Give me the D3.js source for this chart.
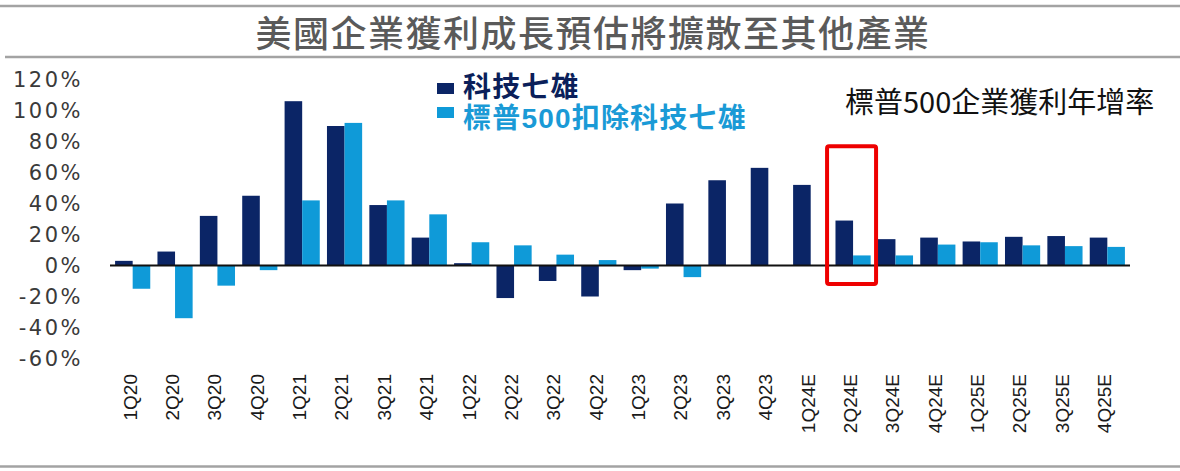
<!DOCTYPE html>
<html>
<head>
<meta charset="utf-8">
<script src="https://cdn.jsdelivr.net/npm/d3@7"></script>
<style>
  body { margin: 0; background: #fff; }
  svg { display: block; }
</style>
</head>
<body>
<div class="chart"></div>
<script>
const svgWidth = 1180;
const svgHeight = 471;

// data (% yoy)
const quarters = ["1Q20", "2Q20", "3Q20", "4Q20", "1Q21", "2Q21", "3Q21", "4Q21",
    "1Q22", "2Q22", "3Q22", "4Q22", "1Q23", "2Q23", "3Q23", "4Q23",
    "1Q24E", "2Q24E", "3Q24E", "4Q24E", "1Q25E", "2Q25E", "3Q25E", "4Q25E"];
const mag7 = [3, 9, 32, 45, 106, 90, 39, 18, 1.5, -21, -10, -20,
    -3, 40, 55, 63, 52, 29, 17, 18, 15.5, 18.5, 19, 18];
const restOf500 = [-15, -34, -13, -3, 42, 92, 42, 33, 15, 13, 7, 3.5,
    -2, -7.5, null, null, null, 6.5, 6.5, 13.5, 15, 13, 12.5, 12];
const yTicks = [-60, -40, -20, 0, 20, 40, 60, 80, 100, 120];
const seriesNames = ["科技七雄", "標普500扣除科技七雄"];
const highlight = "2Q24E";

const darkBlue = "#0b2566";
const lightBlue = "#0f9ad8";
const cjk = "'Noto Sans CJK TC', 'Noto Sans CJK SC', sans-serif";

const svg = d3.select(".chart")
    .append("svg")
    .attr("width", svgWidth)
    .attr("height", svgHeight);

// frame lines
const lineColor = "#a3a3a3";
svg.append("line").attr("x1", 0).attr("x2", svgWidth).attr("y1", 6).attr("y2", 6)
    .attr("stroke", lineColor).attr("stroke-width", 2.5);
svg.append("line").attr("x1", 5).attr("x2", svgWidth).attr("y1", 57).attr("y2", 57)
    .attr("stroke", lineColor).attr("stroke-width", 2.5);
svg.append("line").attr("x1", 0).attr("x2", svgWidth).attr("y1", 466.5).attr("y2", 466.5)
    .attr("stroke", lineColor).attr("stroke-width", 2.5);

svg.append("text")
    .attr("x", 593)
    .attr("y", 47)
    .attr("text-anchor", "middle")
    .style("font-family", cjk)
    .style("font-size", "36px")
    .style("font-weight", 500)
    .style("letter-spacing", "1.5px")
    .style("fill", "#5a5a5a")
    .text("美國企業獲利成長預估將擴散至其他產業");

const x = d3.scaleBand()
    .domain(quarters)
    .range([110, 1130])
    .paddingInner(0.17)
    .paddingOuter(0.12);

const x1 = d3.scaleBand()
    .domain([0, 1])
    .range([0, x.bandwidth()]);

const y = d3.scaleLinear()
    .domain([-60, 120])
    .range([358.5, 79.5]);

// y axis: labels only
const leftAxis = d3.axisLeft(y)
    .tickValues(yTicks)
    .tickSize(0)
    .tickPadding(0)
    .tickFormat(d => d + "%");

const yAxis = svg.append("g")
    .attr("transform", "translate(83, 0)")
    .call(leftAxis)
    .attr("font-size", 21)
    .attr("font-family", "'DejaVu Sans', sans-serif");
yAxis.select(".domain").remove();
yAxis.selectAll("text")
    .style("letter-spacing", "2.5px")
    .style("fill", "#3a3a3a");

// x axis: rotated labels
const bottomAxis = d3.axisBottom(x).tickSize(0).tickPadding(0);
const xAxis = svg.append("g")
    .attr("transform", "translate(-3, 374)")
    .call(bottomAxis)
    .attr("font-size", 19)
    .attr("font-family", "'Liberation Sans', Arial, sans-serif");
xAxis.select(".domain").remove();
xAxis.selectAll("text")
    .attr("transform", "rotate(-90)")
    .attr("x", 0)
    .attr("y", 0)
    .attr("dy", "0.36em")
    .attr("text-anchor", "end")
    .style("fill", "#1a1a1a");

const rows = quarters.map((q, i) => ({q: q, vals: [mag7[i], restOf500[i]]}));

const groups = svg.selectAll(".qGroup")
    .data(rows)
    .enter()
    .append("g")
    .attr("transform", d => `translate(${x(d.q)}, 0)`);

groups.selectAll("rect")
    .data(d => d.vals.map((v, k) => ({k: k, v: v})).filter(e => e.v !== null))
    .enter()
    .append("rect")
    .attr("x", d => x1(d.k))
    .attr("width", x1.bandwidth())
    .attr("y", d => y(Math.max(0, d.v)))
    .attr("height", d => Math.abs(y(d.v) - y(0)))
    .attr("fill", d => d.k === 0 ? darkBlue : lightBlue);

// zero line
svg.append("line")
    .attr("x1", 110).attr("x2", 1130)
    .attr("y1", y(0)).attr("y2", y(0))
    .attr("stroke", "#111")
    .attr("stroke-width", 2);

// highlight box
const hx = x(highlight) + x.bandwidth() / 2;
svg.append("rect")
    .attr("x", hx - 26)
    .attr("y", y(77))
    .attr("width", 49)
    .attr("height", y(-12) - y(77))
    .attr("rx", 2)
    .attr("fill", "none")
    .attr("stroke", "#ee0000")
    .attr("stroke-width", 4);

// legend
const legend = svg.append("g");
[darkBlue, lightBlue].forEach((c, i) => {
    legend.append("rect")
        .attr("x", 437)
        .attr("y", 83 + i * 24)
        .attr("width", 17)
        .attr("height", 11)
        .attr("fill", c);
    legend.append("text")
        .attr("x", 463)
        .attr("y", 96.5 + i * 31.5)
        .style("font-family", "'Liberation Sans', " + cjk)
        .style("font-size", "28px")
        .style("font-weight", 700)
        .style("letter-spacing", "1.2px")
        .style("fill", i === 0 ? "#0b1f5a" : "#1a9ad6")
        .text(seriesNames[i]);
});

svg.append("text")
    .attr("x", 845)
    .attr("y", 113)
    .style("font-family", cjk)
    .style("font-size", "29px")
    .style("fill", "#111")
    .text("標普500企業獲利年增率");
</script>
</body>
</html>
